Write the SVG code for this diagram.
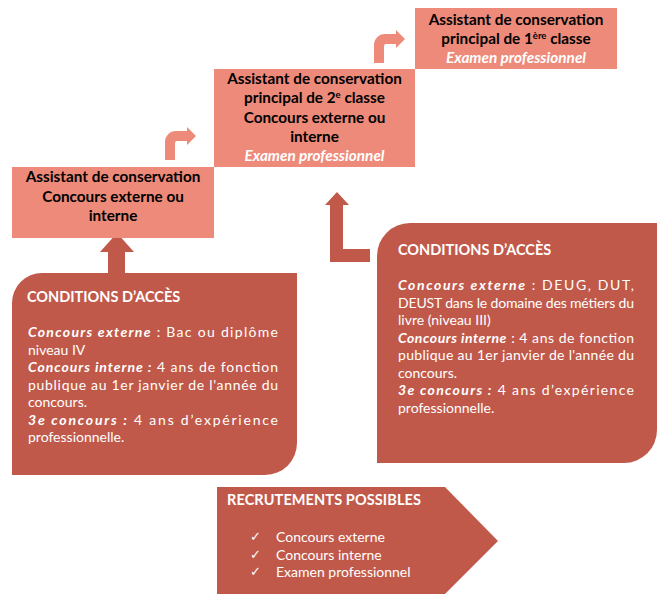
<svg xmlns="http://www.w3.org/2000/svg" width="665" height="597" viewBox="0 0 665 597">
<style>
.light{fill:#ED8A7A}
.dark{fill:#C1594A}
.ttl{font-family:Lato,"Liberation Sans",sans-serif;font-weight:bold;font-size:15.3px;fill:#000;text-anchor:middle}
.ex{fill:#fff;font-style:italic}
.sup{font-size:9.5px}
.hd{font-family:Lato,"Liberation Sans",sans-serif;font-weight:bold;font-size:14.5px;fill:#fff}
.bd{font-family:Lato,"Liberation Sans",sans-serif;font-size:14px;fill:#fff}
.bi{font-weight:bold;font-style:italic}
.chk{font-family:"DejaVu Sans",sans-serif;font-size:13px;fill:#fff}
</style>
<rect width="665" height="597" fill="#fff"/>
<g id="connectors">
<path class="light" d="M165,160 V142 A11,11 0 0 1 176,131 H187 V127 L196,136 L187,145 V141 H177 A2,2 0 0 0 175,143 V160 Z"/>
<path class="light" d="M374,63 V45 A11,11 0 0 1 385,34 H396 V30 L405,39 L396,48 V44 H386 A2,2 0 0 0 384,46 V63 Z"/>
<polygon class="dark" points="117,233 134,252 125,252 125,273 108,273 108,252 100,252"/>
<polygon class="dark" points="337,192 349,205 343,205 343,249 370,249 370,262 330,262 330,205 325,205"/>
</g>
<g id="node-assistant">
<rect class="light" x="12" y="167" width="202" height="71"/>
<text class="ttl" x="113" y="182">Assistant de conservation</text>
<text class="ttl" x="113" y="201.5">Concours externe ou</text>
<text class="ttl" x="113" y="221">interne</text>
</g>
<g id="node-principal2">
<rect class="light" x="214" y="69" width="201" height="98"/>
<text class="ttl" x="314.5" y="84">Assistant de conservation</text>
<text class="ttl" x="314.5" y="103.3">principal de 2<tspan class="sup" dy="-5">e</tspan><tspan dy="5"> classe</tspan></text>
<text class="ttl" x="314.5" y="122.6">Concours externe ou</text>
<text class="ttl" x="314.5" y="141.9">interne</text>
<text class="ttl ex" x="314.5" y="161.2">Examen professionnel</text>
</g>
<g id="node-principal1">
<rect class="light" x="415" y="8" width="202" height="61"/>
<text class="ttl" x="516" y="24.5">Assistant de conservation</text>
<text class="ttl" x="516" y="43.8">principal de 1<tspan class="sup" dy="-5">ère</tspan><tspan dy="5"> classe</tspan></text>
<text class="ttl ex" x="516" y="63">Examen professionnel</text>
</g>
<g id="node-conditions-1">
<path class="dark" d="M42,273 H297 V443 A32,32 0 0 1 265,475 H12 V303 A30,30 0 0 1 42,273 Z"/>
<text class="hd" x="27" y="302">CONDITIONS D’ACCÈS</text>
<text class="bd" x="28" y="337" textLength="250" lengthAdjust="spacing"><tspan class="bi">Concours externe</tspan> : Bac ou diplôme</text>
<text class="bd" x="28" y="354.5">niveau IV</text>
<text class="bd" x="28" y="372" textLength="250" lengthAdjust="spacing"><tspan class="bi">Concours interne :</tspan> 4 ans de fonction</text>
<text class="bd" x="28" y="389.5" textLength="250" lengthAdjust="spacing">publique au 1er janvier de l'année du</text>
<text class="bd" x="28" y="407">concours.</text>
<text class="bd" x="28" y="424.5" textLength="250" lengthAdjust="spacing"><tspan class="bi">3e concours :</tspan> 4 ans d’expérience</text>
<text class="bd" x="28" y="442">professionnelle.</text>
</g>
<g id="node-conditions-2">
<path class="dark" d="M410,223 H657 V430 A33,33 0 0 1 624,463 H377 V256 A33,33 0 0 1 410,223 Z"/>
<text class="hd" x="398" y="255">CONDITIONS D’ACCÈS</text>
<text class="bd" x="398" y="290" textLength="236" lengthAdjust="spacing"><tspan class="bi">Concours externe</tspan> : DEUG, DUT,</text>
<text class="bd" x="398" y="307.5" textLength="236" lengthAdjust="spacing">DEUST dans le domaine des métiers du</text>
<text class="bd" x="398" y="325">livre (niveau III)</text>
<text class="bd" x="398" y="342.5" textLength="236" lengthAdjust="spacing"><tspan class="bi">Concours interne</tspan> : 4 ans de fonction</text>
<text class="bd" x="398" y="360" textLength="236" lengthAdjust="spacing">publique au 1er janvier de l'année du</text>
<text class="bd" x="398" y="377.5">concours.</text>
<text class="bd" x="398" y="395" textLength="236" lengthAdjust="spacing"><tspan class="bi">3e concours :</tspan> 4 ans d’expérience</text>
<text class="bd" x="398" y="412.5">professionnelle.</text>
</g>
<g id="node-recrutements">
<polygon class="dark" points="217,487 445,487 498,541 445,594 217,594"/>
<text class="hd" x="227" y="505" textLength="194" lengthAdjust="spacing">RECRUTEMENTS POSSIBLES</text>
<text class="chk" x="250" y="541">✓</text>
<text class="bd" x="276" y="542">Concours externe</text>
<text class="chk" x="250" y="558.5">✓</text>
<text class="bd" x="276" y="559.5">Concours interne</text>
<text class="chk" x="250" y="576">✓</text>
<text class="bd" x="276" y="577">Examen professionnel</text>
</g>
</svg>
